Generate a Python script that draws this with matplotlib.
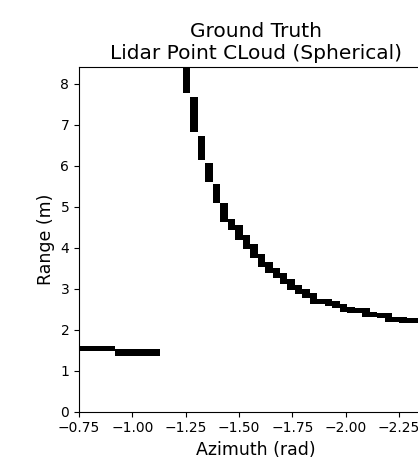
import matplotlib
matplotlib.use("Agg")
import matplotlib.pyplot as plt
import numpy as np

# azimuth bins of the curved wall (rad) and range extent hit in each bin (m)
curve_az = [-1.255, -1.290, -1.325, -1.360, -1.395, -1.430, -1.465, -1.500,
            -1.535, -1.570, -1.605, -1.640, -1.675, -1.710, -1.745, -1.780,
            -1.815, -1.850, -1.885, -1.920, -1.955, -1.990, -2.025, -2.060,
            -2.095, -2.130, -2.165, -2.200, -2.235, -2.270, -2.305, -2.340,
            -2.375, -2.410]
curve_bot = [7.77, 6.82, 6.14, 5.61, 5.09, 4.63, 4.44, 4.20,
             3.96, 3.74, 3.54, 3.38, 3.26, 3.12, 2.98, 2.87,
             2.78, 2.64, 2.62, 2.57, 2.52, 2.43, 2.42, 2.41,
             2.31, 2.30, 2.29, 2.19, 2.18, 2.17, 2.17, 2.16,
             2.16, 2.15]
curve_top = [8.60, 7.68, 6.72, 6.06, 5.55, 5.09, 4.69, 4.56,
             4.32, 4.08, 3.86, 3.66, 3.50, 3.38, 3.24, 3.10,
             2.99, 2.90, 2.76, 2.74, 2.69, 2.64, 2.55, 2.54,
             2.53, 2.43, 2.42, 2.41, 2.31, 2.30, 2.29, 2.29,
             2.28, 2.28]

# straight wall on the left
wall_az_start = [-0.70, -0.92]
wall_az_end = [-0.92, -1.13]
wall_bot = [1.49, 1.36]
wall_top = [1.61, 1.54]

bin_width = 0.035

fig = plt.figure(figsize=(4.18, 4.59), dpi=100)
ax = fig.add_axes([0.189, 0.103, 0.847, 0.751])

# --- curved wall ---
ax.bar(curve_az, np.array(curve_top) - np.array(curve_bot), bottom=curve_bot,
       width=bin_width, color="black", linewidth=0)

# --- straight wall ---
ax.bar(wall_az_start, np.array(wall_top) - np.array(wall_bot), bottom=wall_bot,
       width=np.array(wall_az_end) - np.array(wall_az_start), align="edge",
       color="black", linewidth=0)

ax.set_xlim(-0.75, -2.41)
ax.set_ylim(0, 8.41)
ax.set_xticks([-0.75, -1.00, -1.25, -1.50, -1.75, -2.00, -2.25])
ax.set_yticks(range(9))
ax.tick_params(labelsize=10)

ax.set_xlabel("Azimuth (rad)", fontsize=12.5)
ax.set_ylabel("Range (m)", fontsize=12.5)
ax.set_title("Ground Truth\nLidar Point CLoud (Spherical)", fontsize=14.5)

fig.savefig("out.png", dpi=100)
